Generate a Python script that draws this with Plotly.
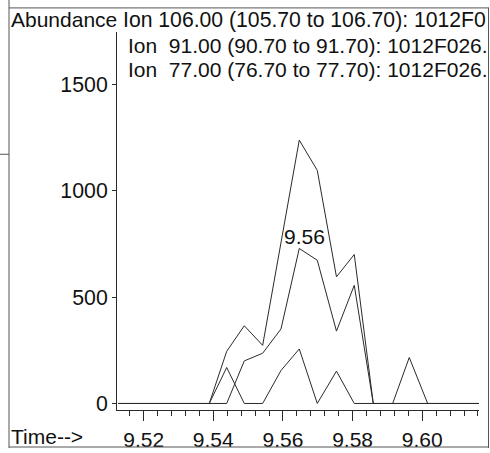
import plotly.graph_objects as go

W, H = 490, 453

# scan times (min)
times = [9.51270, 9.51793, 9.52316, 9.52839, 9.53362, 9.53885, 9.54385, 9.54890,
         9.55418, 9.55944, 9.56469, 9.56986, 9.57537, 9.58048, 9.58594, 9.59151,
         9.59627, 9.60156, 9.60679, 9.61202, 9.61725]

ion106 = [0, 0, 0, 0, 0, 0, 245, 365, 273, 750, 1237, 1095, 595, 700, 0, 0, 0, 0, 0, 0, 0]
ion91 = [0, 0, 0, 0, 0, 0, 0, 200, 236, 350, 728, 673, 340, 555, 0, 0, 0, 0, 0, 0, 0]
ion77 = [0, 0, 0, 0, 0, 0, 169, 0, 0, 155, 256, 0, 152, 0, 0, 0, 216, 0, 0, 0, 0]

ion_labels = [
    "Ion 106.00 (105.70 to 106.70): 1012F0",
    "Ion\u00a0\u00a091.00 (90.70 to 91.70): 1012F026.",
    "Ion\u00a0\u00a077.00 (76.70 to 77.70): 1012F026.",
]
y_ticks = [0, 500, 1000, 1500]
peak_label = "9.56"

FONT = "Liberation Sans, Arial, sans-serif"
FS = 21
LC = "#2a2a2a"

fig = go.Figure()
for name, vals in [("106", ion106), ("91", ion91), ("77", ion77)]:
    fig.add_trace(go.Scatter(x=times, y=vals, mode="lines", name=name,
                             line=dict(color=LC, width=1), showlegend=False,
                             hoverinfo="skip", cliponaxis=True))

# plot area in pixels
x0p, x1p = 117, 479
ytop, ybot = 32, 415

fig.update_layout(
    width=W, height=H, margin=dict(l=0, r=0, t=0, b=0),
    paper_bgcolor="white", plot_bgcolor="white",
    font=dict(family=FONT, size=FS, color="#111"),
    xaxis=dict(domain=[x0p / W, x1p / W], range=[9.51235, 9.6163],
               showline=True, linecolor=LC, linewidth=1, mirror=False,
               ticks="outside", ticklen=10, tickwidth=1, tickcolor=LC,
               tick0=9.52, dtick=0.02, tickformat=".2f",
               minor=dict(ticks="outside", ticklen=5, tickwidth=1, tickcolor=LC,
                          tick0=9.52, dtick=0.004, showgrid=False),
               showgrid=False, zeroline=False, fixedrange=True),
    yaxis=dict(domain=[(H - ybot) / H, (H - ytop) / H], range=[-32.6, 1746.6],
               showline=True, linecolor=LC, linewidth=1,
               ticks="outside", ticklen=4, tickwidth=1, tickcolor=LC,
               tickvals=y_ticks, ticktext=[str(v) for v in y_ticks],
               tickfont=dict(size=21.3),
               showgrid=False, zeroline=False, fixedrange=True),
)

ann = []
def ptext(text, xpx, ypx, size=FS, anchor="left"):
    ann.append(dict(text=text, xref="paper", yref="paper", x=xpx / W, y=1 - ypx / H,
                    xanchor=anchor, yanchor="middle", showarrow=False,
                    font=dict(family=FONT, size=size, color="#111")))

ptext("Abundance", 9, 20)
ptext(ion_labels[0], 121, 20, size=21.2)
ptext(ion_labels[1], 126, 46, size=21)
ptext(ion_labels[2], 126, 70, size=21)
ptext("Time-->", 9, 441)

ipk = ion106.index(max(ion106))
ann.append(dict(text=peak_label, x=times[ipk], y=782, xref="x", yref="y",
                xanchor="center", yanchor="middle", xshift=5, showarrow=False,
                font=dict(family=FONT, size=FS, color="#111")))
fig.update_layout(annotations=ann)

# outer frame of the printout
frame = [
    (9, 0, 9, H), (9, 8, 489, 8), (488.5, 8, 488.5, H), (9, H - 1, 489, H - 1), (0, 156, 9, 156)
]
for xa, ya, xb, yb in frame:
    fig.add_shape(type="line", xref="paper", yref="paper",
                  x0=xa / W, x1=xb / W, y0=1 - ya / H, y1=1 - yb / H,
                  line=dict(color="#555", width=1))

fig.write_html("out.html", config={"staticPlot": True},
               post_script="document.body.style.margin='0';document.body.style.padding='0';"
                           "document.documentElement.style.overflow='hidden';")
